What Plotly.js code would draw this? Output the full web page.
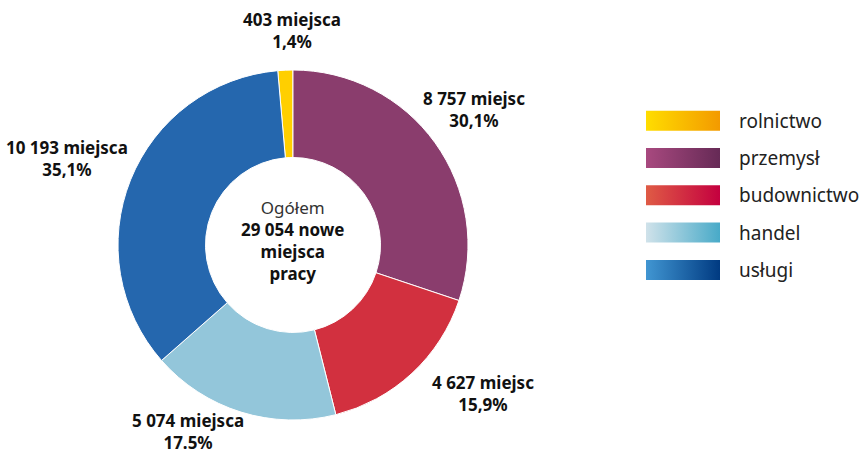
<!DOCTYPE html>
<html><head><meta charset="utf-8">
<script src="https://cdn.plot.ly/plotly-3.0.1.min.js"></script>
<style>html,body{margin:0;padding:0;background:#fff}</style>
</head><body><div id="chart" style="width:866px;height:456px"></div>
<script>
const categories = ["rolnictwo", "przemysł", "budownictwo", "handel", "usługi"];
const values = [403, 8757, 4627, 5074, 10193];
const valueLabels = ["403 miejsca", "8 757 miejsc", "4 627 miejsc", "5 074 miejsca", "10 193 miejsca"];
const percentLabels = ["1,4%", "30,1%", "15,9%", "17.5%", "35,1%"];
const centerLines = ["Ogółem", "29 054 nowe", "miejsca", "pracy"];

// styles
const sliceColors = ["#FFCF00", "#8A3D6D", "#D2303F", "#93C6DA", "#2567AE"];
const gradFrom = ["#FFDD00", "#A8497F", "#DF5B45", "#D0E2EA", "#4196D2"];
const gradTo = ["#F39A00", "#662A56", "#C4003F", "#48AAC8", "#003A81"];
const labelShift = [[7, 0], [-26, 0], [8, -15], [9, -19], [13, 9]];

const W = 866, H = 456;
const font = "Noto Sans, Open Sans, sans-serif";
const cx = 293, cy = 245, R = 175, rotation = -5;

const pie = {
  type: "pie",
  labels: categories,
  values: values,
  sort: false,
  direction: "clockwise",
  rotation: rotation,
  hole: 0.5,
  marker: {colors: sliceColors, line: {color: "#ffffff", width: 1}},
  textinfo: "none",
  hoverinfo: "label+value+percent",
  showlegend: false,
  domain: {x: [(cx - R) / W, (cx + R) / W], y: [1 - (cy + R) / H, 1 - (cy - R) / H]}
};

const annotations = [];
const total = values.reduce((a, b) => a + b, 0);
let acc = 0;
values.forEach((v, i) => {
  const mid = (rotation + (acc + v / 2) / total * 360) * Math.PI / 180;
  acc += v;
  const s = Math.sin(mid), c = Math.cos(mid);
  const px = cx + (R + 15) * s, py = cy - (R + 15) * c;
  annotations.push({
    xref: "paper", yref: "paper", x: px / W, y: 1 - py / H,
    xanchor: s > 0.1 ? "left" : (s < -0.1 ? "right" : "center"),
    yanchor: c > 0.1 ? "bottom" : (c < -0.1 ? "top" : "middle"),
    xshift: labelShift[i][0], yshift: -labelShift[i][1],
    showarrow: false, align: "center",
    text: "<b>" + valueLabels[i] + "<br>" + percentLabels[i] + "</b>",
    font: {family: font, size: 17, color: "#111"}
  });
});

// legend drawn with gradient-filled rectangles in a pixel-space axis
const legendTraces = [];
categories.forEach((cat, i) => {
  const ly = 120.7 + i * 37.3;
  legendTraces.push({
    type: "scatter", mode: "lines", xaxis: "x", yaxis: "y",
    x: [646, 720, 720, 646, 646], y: [ly - 10, ly - 10, ly + 10, ly + 10, ly - 10],
    fill: "toself", line: {width: 0}, hoverinfo: "skip", showlegend: false,
    fillgradient: {type: "horizontal", colorscale: [[0, gradFrom[i]], [1, gradTo[i]]]}
  });
  annotations.push({xref: "paper", yref: "paper", x: 737 / W, y: 1 - ly / H,
    xanchor: "left", yanchor: "middle", showarrow: false, text: cat,
    font: {family: font, size: 19, color: "#222"}});
});

annotations.push({xref: "paper", yref: "paper", x: cx / W, y: 1 - 240 / H,
  xanchor: "center", yanchor: "middle", showarrow: false,
  text: '<span style="font-weight:normal;color:#333">' + centerLines[0] + '</span><br><b>' + centerLines.slice(1).join('<br>') + '</b>',
  font: {family: font, size: 17, color: "#111"}});

Plotly.newPlot("chart", [pie].concat(legendTraces), {
  width: W, height: H,
  margin: {l: 0, r: 0, t: 0, b: 0},
  paper_bgcolor: "#fff", plot_bgcolor: "rgba(0,0,0,0)",
  xaxis: {range: [0, W], visible: false, fixedrange: true},
  yaxis: {range: [H, 0], visible: false, fixedrange: true},
  showlegend: false,
  annotations: annotations
}, {displayModeBar: false, staticPlot: true});
</script></body></html>
